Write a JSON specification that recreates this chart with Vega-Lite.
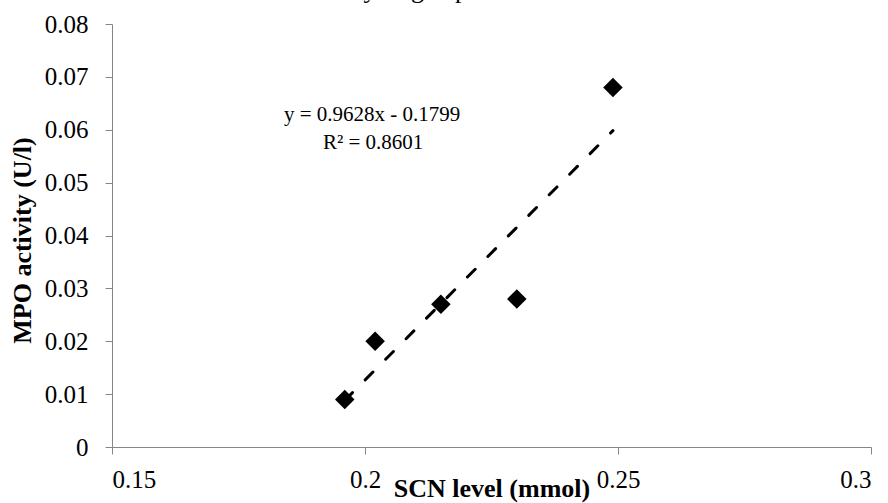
{
  "$schema": "https://vega.github.io/schema/vega-lite/v6.json",
  "width": 759,
  "height": 423,
  "autosize": {"type": "none"},
  "padding": {"left": 112, "top": 24, "right": 17, "bottom": 56},
  "background": "white",
  "config": {
    "view": {"stroke": null},
    "font": "Liberation Serif",
    "axis": {
      "grid": false,
      "domainColor": "#868686",
      "tickColor": "#868686",
      "tickSize": 7,
      "labelFont": "Liberation Serif",
      "labelFontSize": 25,
      "labelColor": "black",
      "titleFont": "Liberation Serif",
      "titleFontSize": 26,
      "titleFontWeight": "bold",
      "titleColor": "black"
    }
  },
  "title": {
    "text": "hydrogen peroxide.",
    "font": "Liberation Serif",
    "fontSize": 26,
    "fontWeight": "normal",
    "color": "black",
    "anchor": "middle",
    "frame": "group",
    "baseline": "alphabetic",
    "offset": 0,
    "dy": 12,
    "dx": -40
  },
  "datasets": {
    "points": [
      {"scn": 0.196, "mpo": 0.009},
      {"scn": 0.202, "mpo": 0.020},
      {"scn": 0.215, "mpo": 0.027},
      {"scn": 0.230, "mpo": 0.028},
      {"scn": 0.249, "mpo": 0.068}
    ],
    "trend": [
      {"scn": 0.196, "mpo": 0.00881},
      {"scn": 0.249, "mpo": 0.05983}
    ]
  },
  "layer": [
    {
      "data": {"name": "trend"},
      "mark": {"type": "line", "color": "black", "strokeWidth": 3, "strokeDash": [11, 18], "strokeCap": "round"},
      "encoding": {
        "x": {"field": "scn", "type": "quantitative", "scale": {"domain": [0.15, 0.3], "nice": false, "zero": false},
          "axis": {"values": [0.15, 0.2, 0.25, 0.3], "format": "~g", "title": "SCN level (mmol)", "labelPadding": 13, "titleX": 379.5, "titleY": 49, "titleAnchor": "middle", "titleBaseline": "alphabetic"}},
        "y": {"field": "mpo", "type": "quantitative", "scale": {"domain": [0, 0.08], "nice": false},
          "axis": {"values": [0, 0.01, 0.02, 0.03, 0.04, 0.05, 0.06, 0.07, 0.08], "format": "~g", "title": "MPO activity (U/l)", "labelPadding": 17, "titleX": -82, "titleY": 216, "titleAnchor": "middle", "titleBaseline": "alphabetic"}}
      }
    },
    {
      "data": {"name": "points"},
      "mark": {"type": "point", "shape": "diamond", "filled": true, "color": "black", "size": 380, "opacity": 1},
      "encoding": {
        "x": {"field": "scn", "type": "quantitative"},
        "y": {"field": "mpo", "type": "quantitative"}
      }
    },
    {
      "data": {"values": [{"label": "y = 0.9628x - 0.1799"}]},
      "mark": {"type": "text", "fontSize": 21, "font": "Liberation Serif", "color": "black", "align": "center", "baseline": "middle"},
      "encoding": {
        "x": {"datum": 0.2014, "type": "quantitative"},
        "y": {"datum": 0.0628, "type": "quantitative"},
        "text": {"field": "label"}
      }
    },
    {
      "data": {"values": [{"label": "R² = 0.8601"}]},
      "mark": {"type": "text", "fontSize": 21, "font": "Liberation Serif", "color": "black", "align": "center", "baseline": "middle"},
      "encoding": {
        "x": {"datum": 0.2016, "type": "quantitative"},
        "y": {"datum": 0.0575, "type": "quantitative"},
        "text": {"field": "label"}
      }
    }
  ]
}
